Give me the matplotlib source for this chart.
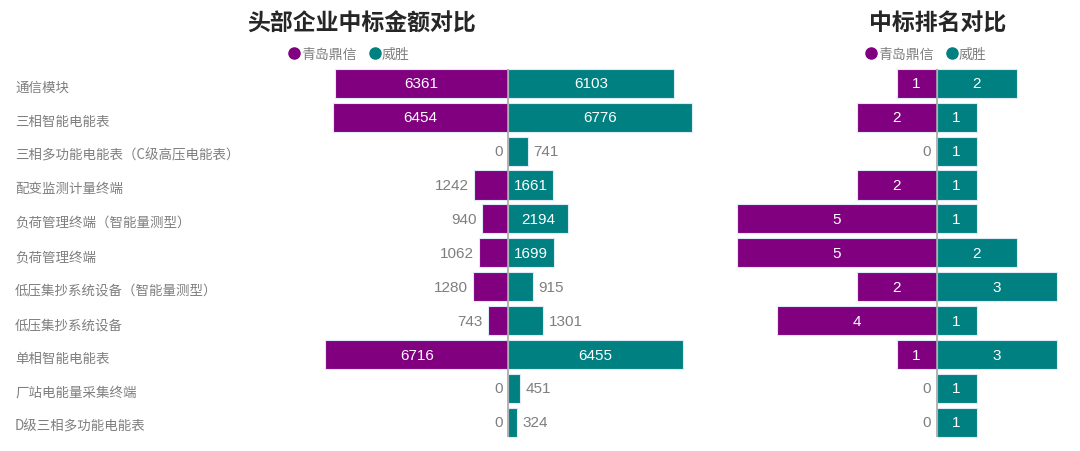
import matplotlib
matplotlib.use("Agg")
import matplotlib.pyplot as plt
from matplotlib.lines import Line2D
import matplotlib.transforms as mtransforms

plt.rcParams['font.family'] = ['Liberation Sans', 'Noto Sans CJK SC', 'DejaVu Sans']

categories = ["通信模块", "三相智能电能表", "三相多功能电能表（C级高压电能表）", "配变监测计量终端",
              "负荷管理终端（智能量测型）", "负荷管理终端", "低压集抄系统设备（智能量测型）",
              "低压集抄系统设备", "单相智能电能表", "厂站电能量采集终端", "D级三相多功能电能表"]
series_names = ["青岛鼎信", "威胜"]
amount_dx = [6361, 6454, 0, 1242, 940, 1062, 1280, 743, 6716, 0, 0]
amount_ws = [6103, 6776, 741, 1661, 2194, 1699, 915, 1301, 6455, 451, 324]
rank_dx = [1, 2, 0, 2, 5, 5, 2, 4, 1, 0, 0]
rank_ws = [2, 1, 1, 1, 1, 2, 3, 1, 3, 1, 1]
titles = ["头部企业中标金额对比", "中标排名对比"]

PURPLE = "#800080"
TEAL = "#008080"
EDGE = "#DDEBF7"
GREY_TXT = "#7F7F7F"
LABEL_TXT = "#7F7F7F"
LINE = "#A6A6A6"

fig = plt.figure(figsize=(10.8, 4.52), dpi=100)
W, H = 1080, 452
n = len(categories)
ypos = list(range(n))
bh = 0.86

row0 = 84.3
step = 33.9
ytop = -0.6
ybot = n - 1 + 0.6
top_px = row0 + ytop * step
bot_px = row0 + ybot * step
ax_bottom = 1 - bot_px / H
ax_height = (bot_px - top_px) / H

def make_axes(left_px, right_px, xmin, xmax):
    ax = fig.add_axes([left_px / W, ax_bottom, (right_px - left_px) / W, ax_height])
    ax.set_xlim(xmin, xmax)
    ax.set_ylim(ybot, ytop)
    ax.axis('off')
    return ax

# amount panel: center 508 px, ~36.8 units per px
upp = 36.8
axL = make_axes(508 - 9500 / upp, 508 + 9500 / upp, -9500, 9500)
# rank panel: center 936.5 px, 40 px per unit
axR = make_axes(936.5 - 5.5 * 40, 936.5 + 3.5 * 40, -5.5, 3.5)

def draw(ax, left_vals, right_vals, inside_min):
    ax.barh(ypos, [-v for v in left_vals], height=bh, color=PURPLE, edgecolor=EDGE, linewidth=0.8, zorder=2)
    ax.barh(ypos, right_vals, height=bh, color=TEAL, edgecolor=EDGE, linewidth=0.8, zorder=2)
    ax.vlines(0, -bh / 2, n - 1 + bh / 2, color=LINE, linewidth=1.2, zorder=3)
    for y, v in zip(ypos, left_vals):
        if v >= inside_min:
            ax.text(-v / 2, y, str(v), ha='center', va='center', color='white', fontsize=11, zorder=4)
        else:
            ax.annotate(str(v), (-v, y), xytext=(-4, 0), textcoords='offset points',
                        ha='right', va='center', color=GREY_TXT, fontsize=11, zorder=4)
    for y, v in zip(ypos, right_vals):
        if v >= inside_min:
            ax.text(v / 2, y, str(v), ha='center', va='center', color='white', fontsize=11, zorder=4)
        else:
            ax.annotate(str(v), (v, y), xytext=(4, 0), textcoords='offset points',
                        ha='left', va='center', color=GREY_TXT, fontsize=11, zorder=4)

draw(axL, amount_dx, amount_ws, 1500)
draw(axR, rank_dx, rank_ws, 1)

# category labels
tr = mtransforms.blended_transform_factory(fig.transFigure, axL.transData)
for y, c in zip(ypos, categories):
    axL.text(15 / W, y + 0.1, c, transform=tr, ha='left', va='center', color=LABEL_TXT,
             fontsize=9.7, family=['Noto Sans CJK SC', 'DejaVu Sans'])

# titles
fig.text(362 / W, 1 - 24.5 / H, titles[0], ha='center', va='center', fontsize=16.5, fontweight='bold',
         color='#262626', family=['Noto Sans CJK SC', 'DejaVu Sans'])
fig.text(938 / W, 1 - 24.5 / H, titles[1], ha='center', va='center', fontsize=16.5, fontweight='bold',
         color='#262626', family=['Noto Sans CJK SC', 'DejaVu Sans'])

# legends
handles = [Line2D([], [], marker='o', linestyle='none', markersize=8, color=PURPLE),
           Line2D([], [], marker='o', linestyle='none', markersize=8, color=TEAL)]
for cx in (349, 926):
    fig.legend(handles, series_names, loc='center', bbox_to_anchor=(cx / W, 1 - 55 / H), ncol=2,
               frameon=False, handletextpad=0.1, columnspacing=0.9, handlelength=0.8,
               prop={'family': ['Noto Sans CJK SC', 'DejaVu Sans'], 'size': 10}, labelcolor=GREY_TXT)

fig.savefig("out.png", dpi=100)
